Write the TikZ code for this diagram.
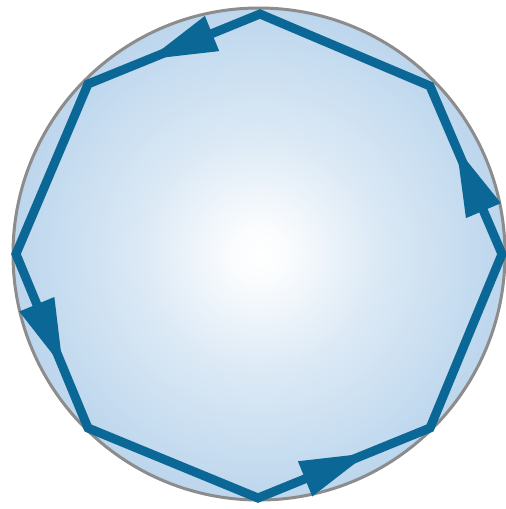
\documentclass[tikz,border=0pt]{standalone}
\usetikzlibrary{decorations.markings}
\definecolor{edgeblue}{HTML}{A2C6E6}
\definecolor{lineblue}{HTML}{0B6795}
\definecolor{rimgray}{HTML}{8C8C8C}
\pgfdeclareradialshading{discshade}{\pgfpoint{0bp}{0bp}}{color(0bp)=(white); color(3bp)=(white!94!edgeblue); color(12bp)=(white!62!edgeblue); color(25bp)=(white!28!edgeblue); color(40bp)=(white!8!edgeblue); color(50bp)=(edgeblue); color(80bp)=(edgeblue)}
\tikzset{
  polyline/.style={draw=lineblue, line width=9pt, line join=miter},
  headedge/.style={postaction={decorate, decoration={markings,
      mark=at position #1 with {\fill[lineblue] (0pt,0pt) -- (-68pt,19pt) -- (-68pt,-19pt) -- cycle;}}}},
}
\begin{document}
\begin{tikzpicture}[x=1pt,y=-1pt]
\useasboundingbox (0,0) rectangle (506,509);
\node[circle, minimum size=492pt, inner sep=0pt, shading=discshade, draw=rimgray, line width=3pt] (disc) at (259,254) {};
\coordinate (T) at (260,14);
\coordinate (UL) at (88,84);
\coordinate (L) at (16,254);
\coordinate (LL) at (88,428);
\coordinate (B) at (258,498);
\coordinate (LR) at (430,428);
\coordinate (R) at (502,254);
\coordinate (UR) at (430,86);
\draw[polyline] (T) -- (UL) -- (L) -- (LL) -- (B) -- (LR) -- (R) -- (UR) -- cycle;
\path[headedge=0.645] (T) -- (UL);
\path[headedge=0.65] (L) -- (LL);
\path[headedge=0.64] (B) -- (LR);
\path[headedge=0.63] (R) -- (UR);
\end{tikzpicture}
\end{document}
